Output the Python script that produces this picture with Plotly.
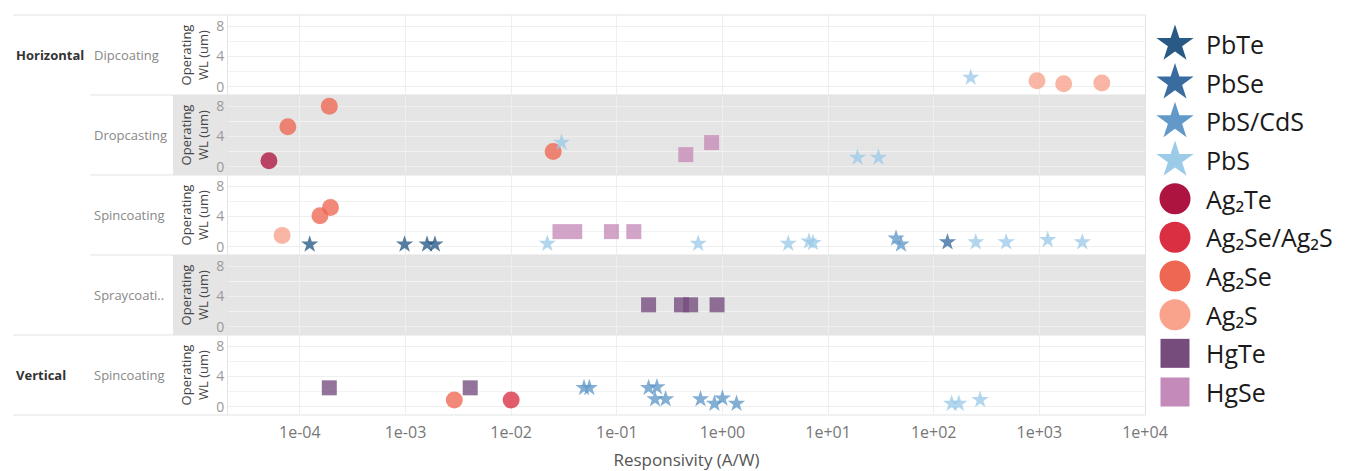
import plotly.graph_objects as go

# ---------------- data ----------------
materials = ["PbTe", "PbSe", "PbS/CdS", "PbS", "Ag2Te", "Ag2Se/Ag2S", "Ag2Se", "Ag2S", "HgTe", "HgSe"]
material_labels = ["PbTe", "PbSe", "PbS/CdS", "PbS",
                   "Ag\u2082Te", "Ag\u2082Se/Ag\u2082S", "Ag\u2082Se", "Ag\u2082S",
                   "HgTe", "HgSe"]
material_colors = ["#285a85", "#3a6ca0", "#6299c9", "#9ccbe8",
                   "#ae1440", "#da2f43", "#ee6752", "#f9a28c",
                   "#754c7c", "#c48ab9"]
material_symbols = ["star", "star", "star", "star",
                    "circle", "circle", "circle", "circle",
                    "square", "square"]

orientation_labels = ["Horizontal", "Vertical"]
method_labels = ["Dipcoating", "Dropcasting", "Spincoating", "Spraycoati..", "Spincoating"]
y_title = "Operating<br>WL (um)"
x_title = "Responsivity (A/W)"

# Horizontal / Dipcoating
dip_material = ["PbS", "Ag2S", "Ag2S", "Ag2S"]
dip_resp = [224, 950, 1700, 3900]
dip_wl = [1.2, 0.8, 0.4, 0.5]

# Horizontal / Dropcasting
drop_material = ["Ag2Te", "Ag2Se", "Ag2Se", "Ag2Se", "PbS", "HgSe", "HgSe", "PbS", "PbS"]
drop_resp = [5.1e-5, 7.7e-5, 1.9e-4, 0.025, 0.030, 0.45, 0.79, 19, 30]
drop_wl = [0.8, 5.3, 8.0, 2.0, 3.2, 1.6, 3.2, 1.2, 1.2]

# Horizontal / Spincoating
hspin_material = ["Ag2S", "Ag2Se", "Ag2Se", "PbTe", "PbTe", "PbTe", "PbTe", "PbS",
                  "HgSe", "HgSe", "HgSe", "HgSe", "PbS", "PbS", "PbS", "PbS",
                  "PbS/CdS", "PbS/CdS", "PbSe", "PbS", "PbS", "PbS", "PbS"]
hspin_resp = [6.8e-5, 1.55e-4, 1.95e-4, 1.24e-4, 9.8e-4, 1.6e-3, 1.9e-3, 0.022,
              0.029, 0.040, 0.089, 0.145, 0.59, 4.2, 6.6, 7.2,
              44, 49, 135, 250, 485, 1200, 2550]
hspin_wl = [1.5, 4.1, 5.2, 0.3, 0.3, 0.3, 0.3, 0.4,
            2.0, 2.0, 2.0, 2.0, 0.4, 0.4, 0.7, 0.5,
            1.1, 0.3, 0.6, 0.6, 0.6, 0.9, 0.6]

# Horizontal / Spraycoating
spray_material = ["HgTe", "HgTe", "HgTe", "HgTe"]
spray_resp = [0.20, 0.41, 0.50, 0.89]
spray_wl = [2.9, 2.9, 2.9, 2.9]

# Vertical / Spincoating
vspin_material = ["HgTe", "Ag2Se", "HgTe", "Ag2Se/Ag2S",
                  "PbS/CdS", "PbS/CdS", "PbS/CdS", "PbS/CdS", "PbS/CdS", "PbS/CdS",
                  "PbS/CdS", "PbS/CdS", "PbS/CdS", "PbS/CdS", "PbS", "PbS", "PbS"]
vspin_resp = [1.9e-4, 2.9e-3, 4.1e-3, 0.010,
              0.049, 0.055, 0.20, 0.24, 0.23, 0.29,
              0.62, 0.84, 1.0, 1.36, 148, 173, 275]
vspin_wl = [2.5, 0.9, 2.5, 0.9,
            2.5, 2.5, 2.5, 2.6, 1.0, 1.0,
            1.0, 0.4, 1.1, 0.4, 0.4, 0.4, 0.9]

x_tick_values = [1e-4, 1e-3, 1e-2, 1e-1, 1e0, 1e1, 1e2, 1e3, 1e4]
x_tick_labels = ["1e-04", "1e-03", "1e-02", "1e-01", "1e+00", "1e+01", "1e+02", "1e+03", "1e+04"]
y_tick_values = [0, 4, 8]
y_tick_labels = ["0", "4", "8"]

# ---------------- layout helpers ----------------
OFF = 8                      # page body margin
W, H = 1347 - OFF, 471 - OFF
FONT = "Open Sans"


def px_x(p):
    return (p - OFF) / W


def px_y(p):
    return 1 - (p - OFF) / H


row_edges = [15, 95, 175, 255, 335, 415]
plot_left, plot_right = 228, 1145
gray_rows = [1, 3]

rows = [
    (dip_material, dip_resp, dip_wl),
    (drop_material, drop_resp, drop_wl),
    (hspin_material, hspin_resp, hspin_wl),
    (spray_material, spray_resp, spray_wl),
    (vspin_material, vspin_resp, vspin_wl),
]

size_by_symbol = {"star": 13, "circle": 17, "square": 15}
legend_size_by_symbol = {"star": 28, "circle": 31, "square": 29}

fig = go.Figure()
layout = dict(
    width=W, height=H,
    margin=dict(l=0, r=0, t=0, b=0),
    paper_bgcolor="white", plot_bgcolor="rgba(0,0,0,0)",
    showlegend=False,
    font=dict(family=FONT, color="#555"),
)

shapes = []
annotations = []

for i, (mat, resp, wl) in enumerate(rows):
    n = i + 1
    xa = "x" if n == 1 else f"x{n}"
    ya = "y" if n == 1 else f"y{n}"
    idx = [materials.index(m) for m in mat]
    fig.add_trace(go.Scatter(
        x=resp, y=wl, mode="markers", xaxis=xa, yaxis=ya,
        marker=dict(
            symbol=[material_symbols[k] for k in idx],
            color=[material_colors[k] for k in idx],
            size=[size_by_symbol[material_symbols[k]] for k in idx],
            opacity=0.78, line=dict(width=0),
        ),
        text=mat, hovertemplate="%{text}<br>%{x}<br>%{y}<extra></extra>",
        cliponaxis=False,
    ))
    top, bot = row_edges[i], row_edges[i + 1]
    xkey = "xaxis" if n == 1 else f"xaxis{n}"
    ykey = "yaxis" if n == 1 else f"yaxis{n}"
    layout[xkey] = dict(
        type="log", range=[-4.68, 4.0], domain=[px_x(plot_left), px_x(plot_right)],
        anchor=ya, showgrid=True, gridcolor="#efefef", gridwidth=1,
        tickvals=x_tick_values, ticktext=x_tick_labels,
        showticklabels=(n == 5), ticks="", zeroline=False, showline=False,
        tickfont=dict(family=FONT, size=16, color="#777"),
        ticklabelstandoff=6,
        automargin=False,
    )
    if n != 5:
        layout[xkey]["matches"] = "x5"
    else:
        layout[xkey]["title"] = dict(text=x_title,
                                     font=dict(family=FONT, size=17, color="#555"),
                                     standoff=14)
    layout[ykey] = dict(
        range=[-1.1, 9.5], domain=[px_y(bot), px_y(top)], anchor=xa,
        tickvals=y_tick_values, ticktext=y_tick_labels,
        showgrid=True, gridcolor="#efefef", zeroline=False,
        minor=dict(tickvals=[2, 6], showgrid=True, gridcolor="#f2f2f2", ticks=""),
        showline=True, linecolor="#e3e3e3", mirror=True, ticks="",
        tickfont=dict(family=FONT, size=14, color="#999"),
        title=dict(text=y_title, font=dict(family=FONT, size=13, color="#444"), standoff=4),
        automargin=False,
    )
    if i in gray_rows:
        shapes.append(dict(type="rect", xref="paper", yref="paper",
                           x0=px_x(173), x1=px_x(plot_right), y0=px_y(bot), y1=px_y(top),
                           fillcolor="#e5e5e5", line=dict(width=0), layer="below"))
    annotations.append(dict(
        text=method_labels[i], xref="paper", yref="paper",
        x=px_x(92), y=px_y((top + bot) / 2), xanchor="left", yanchor="middle",
        showarrow=False, font=dict(family=FONT, size=13, color="#888"),
    ))

# orientation headers
annotations.append(dict(text="<b>" + orientation_labels[0] + "</b>", xref="paper", yref="paper",
                        x=px_x(14), y=px_y(55), xanchor="left", yanchor="middle", showarrow=False,
                        font=dict(family=FONT, size=13, color="#333")))
annotations.append(dict(text="<b>" + orientation_labels[1] + "</b>", xref="paper", yref="paper",
                        x=px_x(14), y=px_y(375), xanchor="left", yanchor="middle", showarrow=False,
                        font=dict(family=FONT, size=13, color="#333")))

# separator lines
sep = [(15, 13), (95, 90), (175, 90), (255, 90), (335, 13), (415, 13)]
for yy, x0 in sep:
    shapes.append(dict(type="line", xref="paper", yref="paper",
                       x0=px_x(x0), x1=px_x(plot_right), y0=px_y(yy), y1=px_y(yy),
                       line=dict(color="#e3e3e3", width=1), layer="above"))

# ---------------- custom legend ----------------
leg_first, leg_last = 44, 392
layout["xaxis6"] = dict(domain=[px_x(1160), px_x(1347)], range=[0, 187], anchor="y6",
                        visible=False, fixedrange=True)
layout["yaxis6"] = dict(domain=[px_y(leg_last), px_y(leg_first)],
                        range=[len(materials) - 1, 0], anchor="x6",
                        visible=False, fixedrange=True)
leg_idx = list(range(len(materials)))
fig.add_trace(go.Scatter(
    x=[15] * len(materials), y=leg_idx, mode="markers", xaxis="x6", yaxis="y6",
    marker=dict(symbol=material_symbols, color=material_colors, opacity=1,
                size=[legend_size_by_symbol[s] for s in material_symbols], line=dict(width=0)),
    cliponaxis=False, hoverinfo="skip",
))
for k, lab in enumerate(material_labels):
    annotations.append(dict(
        text=lab, xref="x6", yref="y6", x=44, y=k,
        xanchor="left", yanchor="middle", showarrow=False,
        font=dict(family=FONT, size=25, color="#1a1a1a"),
    ))

layout["shapes"] = shapes
layout["annotations"] = annotations
fig.update_layout(**layout)
fig.write_html("out.html")
